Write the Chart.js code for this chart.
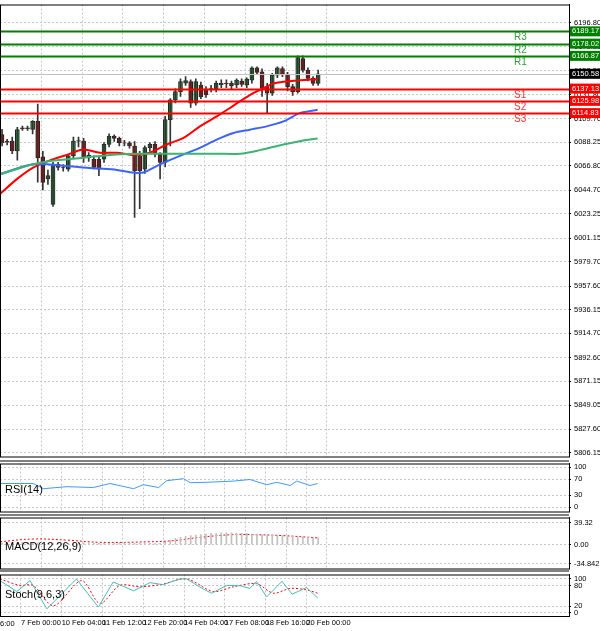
<!DOCTYPE html>
<html><head><meta charset="utf-8">
<script src="https://cdn.jsdelivr.net/npm/chart.js@4/dist/chart.umd.min.js"></script>
<style>
body{margin:0;background:#fff;width:600px;height:631px;overflow:hidden;position:relative;font-family:"Liberation Sans",Arial,sans-serif}
.p{position:absolute;left:0;width:600px}
.t{position:absolute;left:5px;font-size:11px;color:#000}
.sep{position:absolute;left:0;width:569px;height:2px;background:#808080}
</style></head><body>
<div class="p" style="top:-3px;height:467px"><canvas id="main"></canvas></div>
<div class="p" style="top:456px;height:63px"><canvas id="rsi"></canvas></div>
<div class="p" style="top:510px;height:66px"><canvas id="macd"></canvas></div>
<div class="p" style="top:567px;height:64px"><canvas id="stoch"></canvas></div>
<div class="sep" style="top:460px"></div>
<div class="sep" style="top:514px"></div>
<div class="sep" style="top:570px"></div>
<div class="t" style="top:483px">RSI(14)</div>
<div class="t" style="top:540px">MACD(12,26,9)</div>
<div class="t" style="top:588px">Stoch(9,6,3)</div>
<div style="position:absolute;left:0;top:619px;font-size:7.5px">6:00</div>
<script>
const openP=[6095.4,6089.4,6089.4,6080.4,6101.4,6100.8,6099.9,6107.4,6075,6055,6031.8,6068.4,6065.4,6063.9,6075.9,6089.4,6089.4,6076.5,6072.9,6072.9,6072.9,6086.4,6093.9,6091.8,6087.9,6087.9,6084.9,6075.9,6063.9,6083.4,6086.4,6077.4,6069.9,6108.9,6126.9,6134.4,6142,6143.4,6123.9,6140.4,6136.8,6136.8,6136.8,6140.4,6141.9,6141.9,6140.4,6144,6140.4,6144.9,6156,6152.4,6138.9,6132.9,6149.4,6155.4,6150,6138.9,6134.4,6164.4,6153.9,6146.4,6141.9];
const closeP=[6087.9,6088.5,6080.4,6099.9,6100.8,6101.4,6107.4,6074.4,6051.9,6058,6068.4,6065.4,6065,6075.9,6089.4,6089.8,6074.4,6074.4,6065.4,6063.9,6086.4,6093.9,6091.8,6087.9,6087.5,6084.9,6062.4,6062.4,6083.4,6086.4,6077.4,6069.9,6108.9,6126.9,6134.4,6143.4,6144.5,6123.9,6143.4,6129.9,6131.4,6137.2,6141.9,6141.9,6141.5,6139.8,6144.9,6141,6145.8,6156,6151.8,6137.4,6132.9,6149.4,6156,6150,6138.9,6134.4,6165.4,6153.9,6146.4,6141.9,6150.6];
const highP=[6100,6091,6093,6102,6103,6103,6108,6123,6080,6063,6070,6070,6068,6077,6093,6093,6092,6079,6076,6075,6088,6096,6095,6093,6090,6089,6089,6080,6085,6088,6089,6079,6112,6128,6137,6146,6148,6145,6146,6143,6139,6140,6144,6145,6145,6144,6146,6146,6147,6157,6157,6155,6142,6151,6157,6157,6152,6141,6167,6167,6156,6148,6154];
const lowP=[6085,6086,6078,6072,6099,6099,6096,6052,6045,6050,6030,6063,6062,6062,6074,6084,6070,6071,6064,6058,6070,6084,6089,6085,6085,6083,6020,6028,6060,6080,6075,6055,6066,6085,6124,6130,6140,6120,6122,6128,6129,6134,6134,6138,6138,6137,6138,6139,6138,6142,6150,6130,6115,6131,6147,6148,6135,6131,6133,6152,6144,6140,6140];
const maFast=[[-0.4,6041.3],[2.9,6054.8],[6.1,6065.3],[9.4,6071.9],[12.7,6076.7],[15.9,6081.8],[19.2,6078.8],[22.5,6078.8],[25.8,6076.7],[29,6078.8],[32.3,6086.3],[35.6,6092.3],[38.8,6102.8],[42.1,6111.8],[45.4,6121.7],[48.6,6131.3],[51.9,6138.8],[53.2,6141.8],[55.2,6143.3],[58.4,6144.8],[61.9,6145.7]];
const maMid=[[-0.4,6059.3],[6.1,6068.3],[12.7,6066.8],[15.9,6065.3],[19.2,6064.4],[22.5,6063.2],[25.8,6060.8],[27.7,6060.8],[31,6068.3],[35.6,6077.3],[38.8,6083.3],[42.1,6090.8],[45.4,6096.8],[48.6,6099.8],[51.9,6102.8],[55.2,6107.3],[58.4,6114.8],[61.9,6117.8]];
const maSlow=[[-0.4,6059.3],[6.1,6068.3],[9.4,6071.3],[15.9,6074.3],[22.5,6077.3],[29,6077.9],[35.6,6077.9],[42.1,6077.9],[46.7,6077.9],[50.6,6081.2],[55.2,6086.3],[58.4,6089.3],[61.9,6091.7]];
const resist=[6189.17,6178.02,6166.87];
const support=[6137.13,6125.98,6114.83];
const lastPrice=6150.58;
const priceTicks=[6196.80,6175.35,6153.35,6131.80,6109.70,6088.25,6066.80,6044.70,6023.25,6001.15,5979.70,5957.60,5936.15,5914.70,5892.60,5871.15,5849.05,5827.60,5806.15];
const timeLabels=["7 Feb 00:00","10 Feb 04:00","11 Feb 12:00","12 Feb 20:00","14 Feb 04:00","17 Feb 08:00","18 Feb 16:00","20 Feb 00:00"];
const timeIdx=[3.7,11.7,19.7,27.7,35.7,43.7,51.7,59.7];
const rsi=[[-0.4,59],[6.1,59],[8.1,46],[12.7,51],[17.9,49],[21.2,59],[25.8,46],[27.7,56],[30.7,49],[32.3,66],[35.6,71],[36.9,61],[40.1,62],[45.4,65],[48.6,69],[51.9,56],[53.9,62],[56.5,54],[57.8,65],[60.4,54],[61.9,59]];
const macdHist=[3,3,3,4,4,4,4,3,2,2,2,2,2,2,3,3,3,3,2,2,2,2,3,3,3,3,2,2,2,2,2,2,4,8,11,13,15,16,17,18,19,20,20,21,21,21,20,20,20,19,19,18,17,17,16,16,15,15,14,14,13,12,12];
const macdSignal=[[-0.4,5],[6.1,10],[12.7,8],[19.2,4],[29,5],[33.6,7],[38.8,13],[45.4,18],[48.6,18],[55.2,16],[61.9,12]];
const stochMain=[[-0.4,95],[2.9,63],[5.5,95],[8.8,12],[14.6,100],[18.9,17],[21.8,91],[25.8,65],[29,89],[31.6,83],[34.9,100],[36.2,100],[39.5,70],[41.1,58],[44.1,81],[46.7,80],[48.6,72],[49.9,93],[51.9,47],[54.9,93],[56.9,55],[59.7,75],[61.9,44]];
const stochSignal=[[-0.4,100],[3.5,81],[6.1,81],[10.1,21],[15.6,95],[19.2,28],[23.1,81],[27.1,77],[31,83],[36.2,100],[41.4,63],[45.4,77],[49.9,86],[53.2,58],[56.5,72],[59.7,68],[61.9,58]];

const XMIN=-0.4,XMAX=111.2,F={family:"Liberation Sans",size:7.5};
const pts=a=>a.map(p=>({x:p[0],y:p[1]}));
const idx=openP.map((_,i)=>i);
function xAxis(show){return {type:'linear',min:XMIN,max:XMAX,offset:false,display:true,
 afterBuildTicks:a=>{a.ticks=timeIdx.map(v=>({value:v}));},
 ticks:{display:show,autoSkip:false,maxRotation:0,align:'start',padding:2,font:F,color:'#000',
   callback:(v,i)=>timeLabels[i]},
 grid:{color:'#c8c8c8',drawTicks:false,tickLength:0},border:{display:false,dash:[2,2]},
 afterFit:s=>{s.height=show?15:0;}};}
function yAxis(min,max,ticks,labels){return {position:'right',min,max,
 afterBuildTicks:a=>{a.ticks=ticks.map(v=>({value:v}));},
 afterFit:s=>{s.width=31;},
 ticks:{font:F,color:'#000',padding:3,autoSkip:false,callback:(v,i)=>labels?labels[i]:v.toFixed(2)},
 grid:{color:'#c8c8c8',drawTicks:true,tickLength:2,tickColor:'#000'},border:{display:true,color:'#000',dash:[2,2]}};}
const frame={id:'frame',afterDraw(c){const a=c.chartArea,x=c.ctx;x.save();x.strokeStyle='#000';x.lineWidth=1;x.strokeRect(a.left+0.5,a.top+0.5,a.right-a.left,a.bottom-a.top);x.restore();}};
Chart.defaults.animation=false;Chart.defaults.plugins.legend.display=false;Chart.defaults.plugins.tooltip.enabled=false;
Chart.defaults.font.family="Liberation Sans";

const levels={id:'levels',afterDatasetsDraw(c){const y=c.scales.y,a=c.chartArea,x=c.ctx;x.save();
 const draw=(v,col,lbl,w)=>{const py=Math.round(y.getPixelForValue(v))+0.5;x.strokeStyle=col;x.lineWidth=w;x.beginPath();x.moveTo(a.left,py);x.lineTo(a.right,py);x.stroke();
  if(lbl){x.fillStyle=col==='#008000'?'#2e9e2e':'#ff3030';x.font='10px Liberation Sans';x.textAlign='left';x.textBaseline='middle';x.fillText(lbl,514,py+6);}};
 draw(lastPrice,'#c0c0c0',null,1);
 resist.forEach((v,i)=>draw(v,'#008000','R'+(3-i),2));
 support.forEach((v,i)=>draw(v,'#ff0000','S'+(i+1),2));
 const box=(v,bg)=>{const py=y.getPixelForValue(v);x.fillStyle=bg;x.fillRect(a.right+1,py-5,31,10);x.fillStyle='#fff';x.font='7.5px Liberation Sans';x.textAlign='left';x.textBaseline='middle';x.fillText(v.toFixed(2),a.right+3,py);};
 resist.forEach(v=>box(v,'#008000'));support.forEach(v=>box(v,'#ff0000'));box(lastPrice,'#000');
 x.restore();}};

new Chart(document.getElementById('main'),{type:'bar',plugins:[frame,levels],
 data:{datasets:[
  {type:'line',data:pts(maSlow),borderColor:'#3cb371',borderWidth:2,pointRadius:0,tension:0.3},
  {type:'line',data:pts(maMid),borderColor:'#3a62ff',borderWidth:2,pointRadius:0,tension:0.3},
  {type:'line',data:pts(maFast),borderColor:'#ff0000',borderWidth:2,pointRadius:0,tension:0.3},
  {data:idx.map(i=>({x:i,y:[lowP[i],highP[i]]})),backgroundColor:'#333',barThickness:1,grouped:false},
  {data:idx.map(i=>({x:i,y:[openP[i],closeP[i]]})),backgroundColor:idx.map(i=>closeP[i]>=openP[i]?'#1f9e3a':'#e00000'),
   borderColor:'#222',borderWidth:1,borderSkipped:false,barThickness:4,grouped:false}]},
 options:{responsive:true,maintainAspectRatio:false,layout:{padding:0},
  scales:{x:xAxis(false),y:yAxis(5802.6,6213.6,priceTicks)}}});

new Chart(document.getElementById('rsi'),{type:'line',plugins:[frame],
 data:{datasets:[{data:pts(rsi),borderColor:'#3d9bff',borderWidth:1,pointRadius:0}]},
 options:{responsive:true,maintainAspectRatio:false,layout:{padding:0},
  scales:{x:xAxis(false),y:yAxis(-11,109,[0,30,70,100],['0','30','70','100'])}}});

new Chart(document.getElementById('macd'),{type:'bar',plugins:[frame],
 data:{datasets:[{data:idx.map(i=>({x:i,y:macdHist[i]})),backgroundColor:'#c0c0c0',barThickness:1,grouped:false},
  {type:'line',data:pts(macdSignal),borderColor:'#ff0000',borderWidth:1,borderDash:[2,2],pointRadius:0,tension:0.4}]},
 options:{responsive:true,maintainAspectRatio:false,layout:{padding:0},
  scales:{x:xAxis(false),y:yAxis(-43.1,48.7,[-34.842,0,39.32],['-34.842','0.00','39.32'])}}});

new Chart(document.getElementById('stoch'),{type:'line',plugins:[frame],
 data:{datasets:[{data:pts(stochMain),borderColor:'#40c0b8',borderWidth:1,pointRadius:0},
  {data:pts(stochSignal),borderColor:'#ff0000',borderWidth:1,borderDash:[2,2],pointRadius:0,tension:0.3}]},
 options:{responsive:true,maintainAspectRatio:false,layout:{padding:0},
  scales:{x:xAxis(true),y:yAxis(-9,113,[0,20,80,100],['0','20','80','100'])}}});
</script></body></html>
